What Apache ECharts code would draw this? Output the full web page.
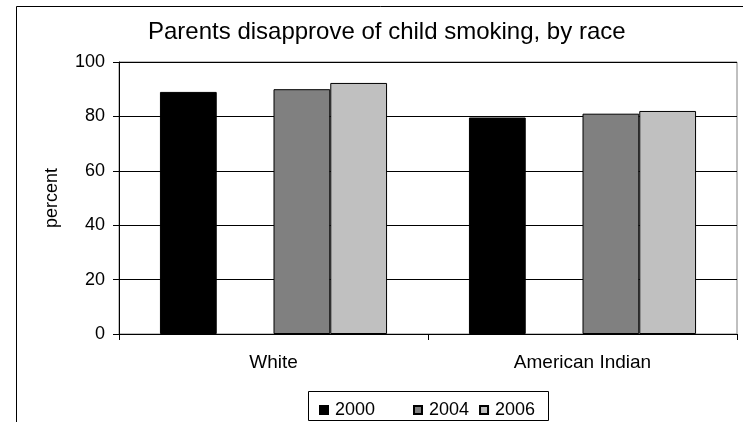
<!DOCTYPE html>
<html>
<head>
<meta charset="utf-8">
<script src="https://cdn.jsdelivr.net/npm/echarts@6/dist/echarts.min.js"></script>
<style>
html,body{margin:0;padding:0;background:#fff;}
#chart{width:743px;height:422px;}
</style>
</head>
<body>
<div id="chart"></div>
<script>
const categories = ['White', 'American Indian'];
const seriesNames = ['2000', '2002', '2004', '2006'];
const values2000 = [89, 79.6];
const values2002 = [null, null];
const values2004 = [90, 81];
const values2006 = [92.3, 82];
const yTicks = [0, 20, 40, 60, 80, 100];

const FONT = "'Liberation Sans', Arial, sans-serif";
const colors = ['#000000', '#ffffff', '#808080', '#c0c0c0'];
const allValues = [values2000, values2002, values2004, values2006];

const chart = echarts.init(document.getElementById('chart'), null, {renderer: 'canvas'});

const series = seriesNames.map((n, i) => ({
  name: n,
  type: 'bar',
  data: allValues[i],
  barGap: '0%',
  barCategoryGap: '26.5%',
  itemStyle: {color: colors[i], borderColor: '#000', borderWidth: 1},
  emphasis: {disabled: true},
  animation: false
}));

const legendCommon = {
  orient: 'horizontal',
  itemWidth: 8,
  itemHeight: 8,
  icon: 'rect',
  itemGap: 10,
  textStyle: {fontFamily: FONT, fontSize: 18, color: '#000', padding: [0, 0, 0, 2]},
  selectedMode: false,
  top: 396
};

chart.setOption({
  animation: false,
  backgroundColor: '#ffffff',
  title: {
    text: 'Parents disapprove of child smoking, by race',
    left: 148,
    top: 20,
    padding: 0,
    textStyle: {fontFamily: FONT, fontSize: 24, fontWeight: 'normal', color: '#000'}
  },
  grid: {
    left: 119, top: 62, right: 6, bottom: 88,
    show: true, borderColor: '#808080', borderWidth: 1, backgroundColor: 'transparent'
  },
  legend: [
    Object.assign({}, legendCommon, {data: ['2000'], left: 314}),
    Object.assign({}, legendCommon, {data: ['2004', '2006'], left: 408})
  ],
  xAxis: {
    type: 'category',
    data: categories,
    axisLine: {show: true, lineStyle: {color: '#000', width: 1}},
    axisTick: {show: true, alignWithLabel: false, length: 6, inside: false, lineStyle: {color: '#000'}},
    axisLabel: {fontFamily: FONT, fontSize: 19, color: '#000', margin: 19},
    splitLine: {show: false}
  },
  yAxis: {
    type: 'value',
    min: 0, max: 100, interval: 20,
    name: 'percent',
    nameLocation: 'middle',
    nameRotate: 90,
    nameGap: 58,
    nameTextStyle: {fontFamily: FONT, fontSize: 18, color: '#000'},
    axisLine: {show: true, lineStyle: {color: '#000', width: 1}},
    axisTick: {show: true, length: 6, inside: false, lineStyle: {color: '#000'}},
    axisLabel: {fontFamily: FONT, fontSize: 18, color: '#000', margin: 14,
      formatter: v => (yTicks.indexOf(v) >= 0 ? String(v) : '')},
    splitLine: {show: true, lineStyle: {color: '#000', width: 1}}
  },
  graphic: [
    {type: 'rect', silent: true, z: -1,
     shape: {x: 16.5, y: 6.5, width: 800, height: 500},
     style: {fill: 'transparent', stroke: '#000', lineWidth: 1}},
    {type: 'rect', silent: true,
     shape: {x: 308.5, y: 391.5, width: 240, height: 29},
     style: {fill: 'transparent', stroke: '#000', lineWidth: 1}}
  ],
  series: series
});
</script>
</body>
</html>
